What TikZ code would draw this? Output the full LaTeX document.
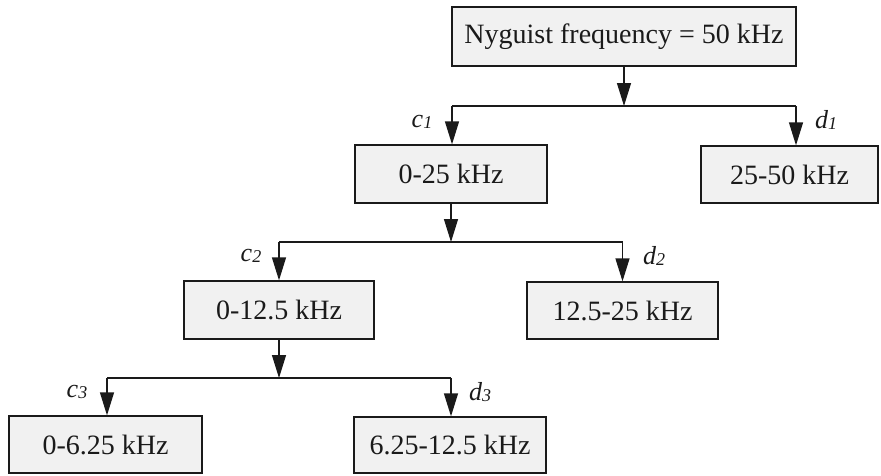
\documentclass[tikz,border=0pt]{standalone}
\usepackage{fontspec}
\setmainfont{Liberation Serif}
\usetikzlibrary{arrows.meta}
\definecolor{boxfill}{HTML}{F1F1F1}
\definecolor{ink}{HTML}{1A1A1A}
\tikzset{
  fbox/.style={draw=ink, line width=1.3pt, fill=boxfill, inner sep=0pt,
    font=\fontsize{28}{32}\selectfont, text=ink},
  conn/.style={draw=ink, line width=1.3pt},
  arr/.style={conn, -{Triangle[length=23pt,width=14pt]}},
  lbl/.style={inner sep=0pt, font=\fontsize{26}{30}\selectfont\itshape, text=ink}
}
\newcommand{\coef}[2]{#1{\fontsize{18}{20}\selectfont\raisebox{-1pt}{#2}}}
\begin{document}
\begin{tikzpicture}[x=1pt,y=-1pt]
\useasboundingbox (0,0) rectangle (881,475);
\node[fbox, minimum width=344pt, minimum height=59pt] (top) at (624,36.5) {Nyguist frequency = 50 kHz};
\node[fbox, minimum width=192pt, minimum height=58pt] (b1) at (451,174) {0-25 kHz};
\node[fbox, minimum width=177pt, minimum height=57pt] (b2) at (789.5,174.5) {25-50 kHz};
\node[fbox, minimum width=190pt, minimum height=58pt] (b3) at (279,310) {0-12.5 kHz};
\node[fbox, minimum width=191pt, minimum height=57pt] (b4) at (622.5,310.5) {12.5-25 kHz};
\node[fbox, minimum width=193pt, minimum height=57pt] (b5) at (105.5,444.5) {0-6.25 kHz};
\node[fbox, minimum width=192pt, minimum height=56pt] (b6) at (450,445) {6.25-12.5 kHz};

\coordinate (jL1) at (452,106);
\coordinate (jR1) at (796,106);
\coordinate (jL2) at (279,242);
\coordinate (jR2) at (622.5,242);
\coordinate (jL3) at (107,378);
\coordinate (jR3) at (451,378);

\draw[conn] (jL1) -- (jR1);
\draw[arr] (top.south) -- (top.south |- jL1);
\draw[arr] (jL1) -- (jL1 |- b1.north);
\draw[arr] (jR1) -- (jR1 |- b2.north);

\draw[conn] (jL2) -- (jR2);
\draw[arr] (b1.south) -- (b1.south |- jL2);
\draw[arr] (jL2) -- (jL2 |- b3.north);
\draw[arr] (jR2) -- (jR2 |- b4.north);

\draw[conn] (jL3) -- (jR3);
\draw[arr] (b3.south) -- (b3.south |- jL3);
\draw[arr] (jL3) -- (jL3 |- b5.north);
\draw[arr] (jR3) -- (jR3 |- b6.north);

\node[lbl] (lc1) at (422,122) {\coef{c}{1}};
\node[lbl] (ld1) at (826,120) {\coef{d}{1}};
\node[lbl] (lc2) at (251,256) {\coef{c}{2}};
\node[lbl] (ld2) at (654,256) {\coef{d}{2}};
\node[lbl] (lc3) at (77,392) {\coef{c}{3}};
\node[lbl] (ld3) at (480,392) {\coef{d}{3}};
\end{tikzpicture}
\end{document}
